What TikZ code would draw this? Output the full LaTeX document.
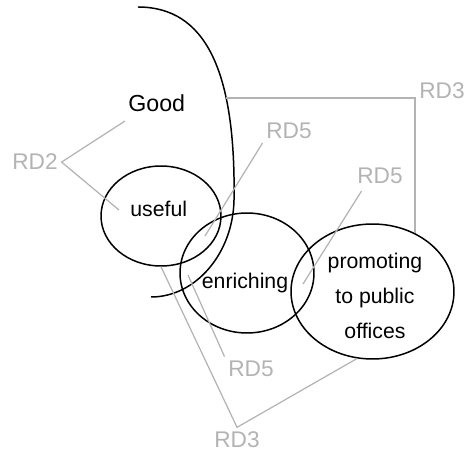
\documentclass[tikz,border=0pt]{standalone}
\usepackage{fontspec}
\setmainfont{Liberation Sans}
\usetikzlibrary{shapes.geometric,calc}
\definecolor{tagGray}{RGB}{179,179,179}
\tikzset{
  ringnode/.style={draw,ellipse,line width=0.85pt,inner sep=0pt},
  wordnode/.style={inner sep=2pt,font=\fontsize{12.1}{20}\selectfont},
  tagtext/.style={inner sep=2pt,text=tagGray,font=\fontsize{12.9}{15}\selectfont},
  leadline/.style={draw=tagGray,line width=0.7pt},
}

\begin{document}
\begin{tikzpicture}[x=0.02cm,y=-0.02cm]
  \useasboundingbox (0,0) rectangle (472,452);

  % the three overlapping regions
  \node[ringnode,minimum width=2.4cm,minimum height=2cm] (useful) at (161,216) {};
  \node[ringnode,minimum width=2.68cm,minimum height=2.4cm] (enriching) at (247,273) {};
  \node[ringnode,minimum width=3.26cm,minimum height=2.7cm] (promoting) at (372.5,291.5) {};

  % open boundary of the good
  \draw[line width=0.85pt] (138,7) .. controls (205,7) and (236,70) .. (234,200)
    .. controls (233,253) and (196,297) .. (151,297);
  \coordinate (goodmid) at (226,98);

  \node[wordnode,font=\fontsize{13.2}{16}\selectfont,anchor=base west] (good) at (124.5,112) {Good};
  \node[wordnode,anchor=base west] (usefulword) at (126.5,216.7) {useful};
  \node[wordnode,anchor=base west] (enrichingword) at (198,288) {enriching};
  \node[wordnode,align=center] (promotingword) at (375,296) {promoting\\to public\\offices};

  % grey tags
  \node[tagtext,anchor=base west] (rd2) at (8.5,170) {RD2};
  \node[tagtext,anchor=base west] (rd3a) at (415.5,99) {RD3};
  \node[tagtext,anchor=base west] (rd5a) at (262.5,139) {RD5};
  \node[tagtext,anchor=base west] (rd5b) at (353.5,184) {RD5};
  \node[tagtext,anchor=base west] (rd5c) at (224.5,376) {RD5};
  \node[tagtext,anchor=base west] (rd3b) at (210.5,447) {RD3};

  \coordinate (ingood) at (125,121);
  \coordinate (inuseful) at (119,210);
  \coordinate (overlapA) at (205,236);
  \coordinate (overlapB) at (303,284);
  \coordinate (inenriching) at (188,275);

  \draw[leadline] (ingood) -- (rd2.east) -- (inuseful);
  \draw[leadline] (goodmid) -| (promoting.54);
  \draw[leadline] (rd5a.south west) -- (overlapA);
  \draw[leadline] ($(rd5b.south west)+(8,3)$) -- (overlapB);
  \draw[leadline] (rd5c.north west) -- (inenriching);
  \draw[leadline] (useful.south) -- (rd3b.north) -- (promoting.257);
\end{tikzpicture}
\end{document}
